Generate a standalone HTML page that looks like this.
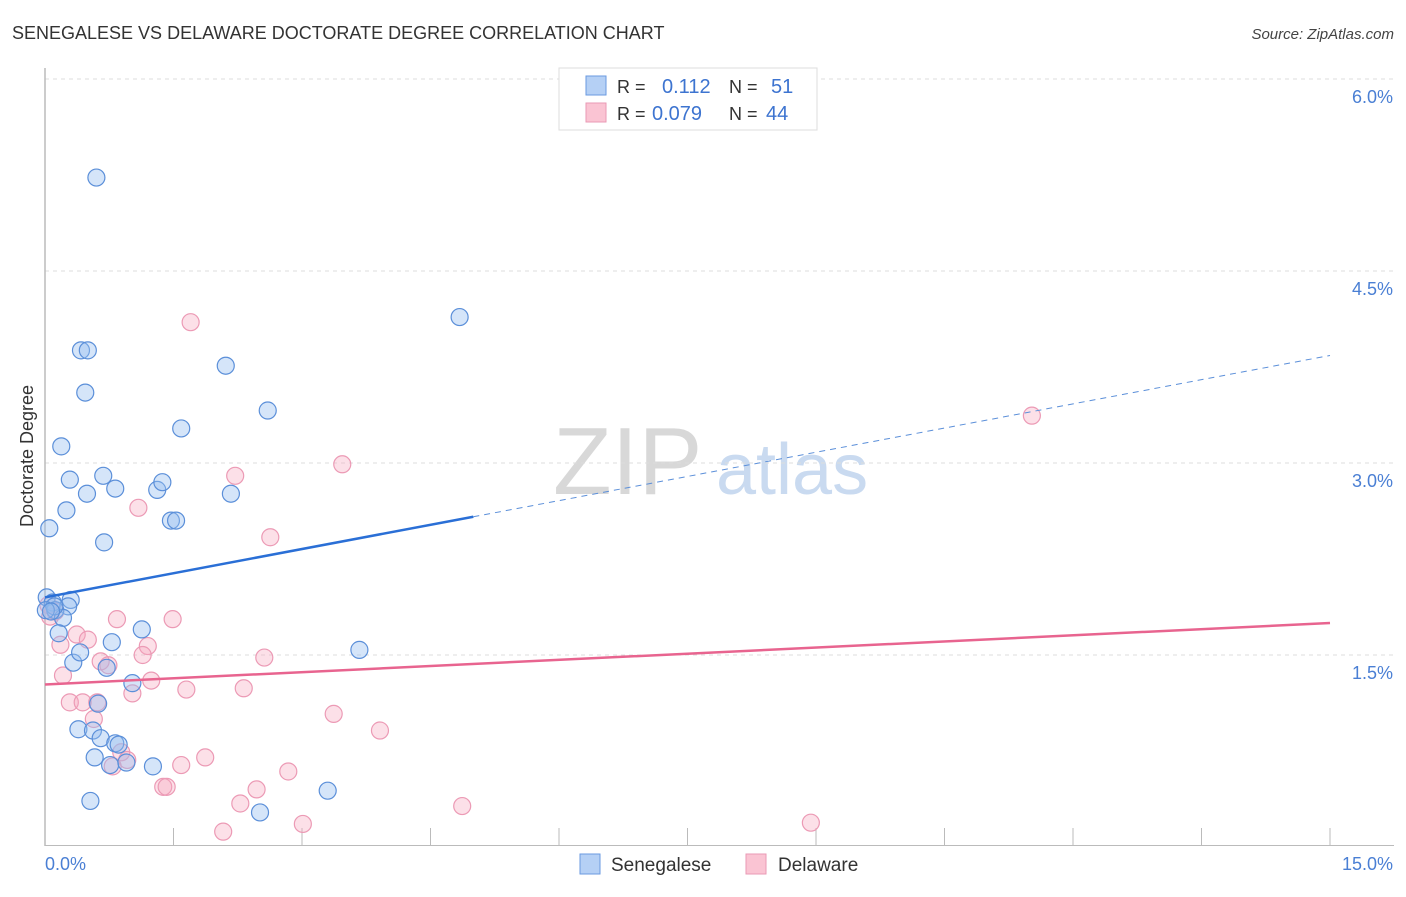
<!DOCTYPE html>
<html><head><meta charset="utf-8"><style>
body{margin:0;background:#fff;font-family:"Liberation Sans",sans-serif;}
svg text{font-family:"Liberation Sans",sans-serif;}
</style></head><body>
<svg id="chart" width="1406" height="892" xmlns="http://www.w3.org/2000/svg">
<text x="12" y="39" font-size="18" fill="#333">SENEGALESE VS DELAWARE DOCTORATE DEGREE CORRELATION CHART</text>
<text x="1394" y="39" font-size="15" fill="#444" text-anchor="end" font-style="italic">Source: ZipAtlas.com</text>
<g>
<text x="553" y="494" font-size="96" fill="#d8d8d8" font-family="Liberation Serif,serif">ZIP</text>
<text x="716" y="494" font-size="72" fill="#c9daf0">atlas</text>
</g>
<g id="grid"></g>
<line x1="45" y1="68" x2="45" y2="846" stroke="#bbb" stroke-width="1.5"/>
<line x1="45" y1="845.5" x2="1394" y2="845.5" stroke="#bbb" stroke-width="1"/>
<text transform="translate(33,456) rotate(-90)" font-size="18" fill="#333" text-anchor="middle">Doctorate Degree</text>
<text x="45" y="870" font-size="18" fill="#4a7fd4">0.0%</text>
<text x="1393" y="870" font-size="18" fill="#4a7fd4" text-anchor="end">15.0%</text>
<g id="points"></g>
<g id="trends"></g>
<g>
<rect x="559" y="68" width="258" height="62" fill="#fff" stroke="#ddd"/>
<rect x="586" y="76" width="20" height="19" fill="#b5d0f5" stroke="#6a9ae0"/>
<rect x="586" y="103" width="20" height="19" fill="#fac4d3" stroke="#ea9ab4"/>
<text x="617" y="93" font-size="18" fill="#333">R =</text><text x="662" y="93" font-size="20" fill="#3d74d0">0.112</text>
<text x="729" y="93" font-size="18" fill="#333">N =</text><text x="771" y="93" font-size="20" fill="#3d74d0">51</text>
<text x="617" y="120" font-size="18" fill="#333">R =</text><text x="652" y="120" font-size="20" fill="#3d74d0">0.079</text>
<text x="729" y="120" font-size="18" fill="#333">N =</text><text x="766" y="120" font-size="20" fill="#3d74d0">44</text>
</g>
<g>
<rect x="580" y="854" width="20" height="20" fill="#b5d0f5" stroke="#6a9ae0"/>
<text x="611" y="871" font-size="19" fill="#333">Senegalese</text>
<rect x="746" y="854" width="20" height="20" fill="#fac4d3" stroke="#ea9ab4"/>
<text x="778" y="871" font-size="19" fill="#333">Delaware</text>
</g>
</svg>
<script>
const yTicks=[1.5,3.0,4.5,6.0];
const yTickLabels=["1.5%","3.0%","4.5%","6.0%"];
const xTicks=[0,1.5,3,4.5,6,7.5,9,10.5,12,13.5,15];
const senX=[0.60,4.84,0.42,0.50,0.47,2.11,2.60,1.59,0.19,0.29,0.68,0.49,0.82,1.31,1.37,2.17,0.25,1.47,1.53,0.69,0.05,0.02,0.09,0.30,0.27,0.12,0.21,0.16,0.78,1.13,3.67,0.33,0.41,0.72,1.02,0.62,0.39,0.56,0.65,0.82,0.86,0.58,0.76,0.95,1.26,0.53,2.51,3.30,0.11,0.01,0.07];
const senY=[5.23,4.14,3.88,3.88,3.55,3.76,3.41,3.27,3.13,2.87,2.90,2.76,2.80,2.79,2.85,2.76,2.63,2.55,2.55,2.38,2.49,1.95,1.91,1.93,1.88,1.85,1.79,1.67,1.60,1.70,1.54,1.44,1.52,1.40,1.28,1.12,0.92,0.91,0.85,0.81,0.80,0.70,0.64,0.66,0.63,0.36,0.27,0.44,1.88,1.85,1.84];
const delX=[1.70,11.52,3.47,2.22,1.09,2.63,0.84,1.49,0.37,0.50,0.18,1.20,0.65,0.74,1.14,2.56,1.24,1.65,2.32,1.02,0.21,0.29,0.44,0.61,0.57,3.37,3.91,0.89,0.96,0.79,1.87,1.59,2.84,1.38,1.42,2.47,2.28,4.87,3.01,8.94,2.08,0.06,0.12,0.04];
const delY=[4.10,3.37,2.99,2.90,2.65,2.42,1.78,1.78,1.66,1.62,1.58,1.57,1.45,1.42,1.50,1.48,1.30,1.23,1.24,1.20,1.34,1.13,1.13,1.13,1.00,1.04,0.91,0.74,0.68,0.63,0.70,0.64,0.59,0.47,0.47,0.45,0.34,0.32,0.18,0.19,0.12,1.80,1.84,1.89];
const senTrend=[1.95,3.84], senSolidEnd=5.0;
const delTrend=[1.27,1.75];
const NS="http://www.w3.org/2000/svg";
const sx=v=>45+v*1285/15;
const sy=v=>847-v*128;
function mk(t,a,p){const e=document.createElementNS(NS,t);for(const k in a)e.setAttribute(k,a[k]);p.appendChild(e);return e;}
const grid=document.getElementById('grid');
yTicks.forEach((t,i)=>{
 const l=mk('line',{x1:45,x2:1394,y1:sy(t),y2:sy(t),stroke:'#ddd','stroke-dasharray':'4,4'},grid);
 
 
 const tx=mk('text',{x:1393,y:sy(t)+24,'font-size':18,fill:'#4a7fd4','text-anchor':'end'},grid);
 tx.textContent=yTickLabels[i];
 
 
});
xTicks.forEach(t=>{
 const l=mk('line',{x1:sx(t),x2:sx(t),y1:828,y2:846,stroke:'#bbb'},grid);
 
 
});
const pts=document.getElementById('points');
delX.forEach((x,i)=>{
 const c=mk('circle',{cx:sx(x),cy:sy(delY[i]),r:8.5,fill:'rgba(245,165,190,0.35)',stroke:'#ec9ab5','stroke-width':1.2},pts);
 
 
});
senX.forEach((x,i)=>{
 const c=mk('circle',{cx:sx(x),cy:sy(senY[i]),r:8.5,fill:'rgba(150,190,240,0.4)',stroke:'#5b8fd9','stroke-width':1.2},pts);
 
 
});
const tr=document.getElementById('trends');
const sAt=v=>senTrend[0]+(senTrend[1]-senTrend[0])*v/15;
let l1=mk('line',{x1:sx(0),y1:sy(senTrend[0]),x2:sx(senSolidEnd),y2:sy(sAt(senSolidEnd)),stroke:'#2a6fd6','stroke-width':2.5},tr);


let l2=mk('line',{x1:sx(senSolidEnd),y1:sy(sAt(senSolidEnd)),x2:sx(15),y2:sy(senTrend[1]),stroke:'#5b8fd9','stroke-width':1,'stroke-dasharray':'6,5'},tr);


let l3=mk('line',{x1:sx(0),y1:sy(delTrend[0]),x2:sx(15),y2:sy(delTrend[1]),stroke:'#e8648f','stroke-width':2.5},tr);


</script>
</body></html>
